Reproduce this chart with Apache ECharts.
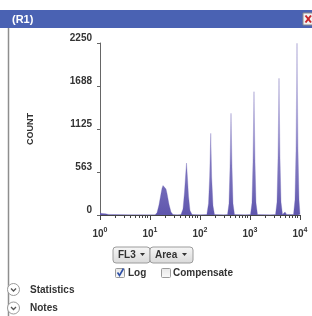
<!DOCTYPE html>
<html>
<head>
<meta charset="utf-8">
<script src="https://cdn.jsdelivr.net/npm/echarts@6/dist/echarts.min.js"></script>
<style>
html, body { margin: 0; padding: 0; background: #fff; }
#main { width: 312px; height: 316px; }
</style>
</head>
<body>
<div id="main"></div>
<script>
// FL3 histogram (channel on log scale, count)
var channel = [1, 1.1, 1.2, 1.3, 1.5, 2, 4, 8,
    12.6, 13.8, 15.1, 16.6, 17.4, 18.2, 19.1, 19.9, 20.9, 21.9, 24.0, 26.3, 28.8, 35,
    41.7, 45.7, 49, 51.3, 53.7, 56.2, 58.9, 63.1, 69.2, 100,
    137, 148, 156, 164, 171, 182, 195, 300,
    355, 380, 398, 417, 437, 457, 490, 800,
    1023, 1096, 1148, 1202, 1259, 1318, 1413, 2500,
    3236, 3467, 3631, 3802, 3981, 4169, 4467, 4700, 5012, 5400,
    7413, 7943, 8318, 8710, 9120, 9550, 10000];
var count = [25, 20, 18, 15, 8, 5, 4, 3,
    3, 30, 130, 280, 350, 385, 392, 380, 340, 280, 140, 40, 5, 3,
    5, 80, 300, 500, 680, 480, 250, 60, 5, 3,
    5, 150, 500, 1068, 500, 120, 5, 3,
    5, 150, 620, 1330, 620, 150, 5, 3,
    5, 160, 700, 1613, 700, 160, 5, 3,
    5, 170, 750, 1788, 750, 170, 5, 10, 40, 8,
    5, 200, 850, 2246, 850, 200, 5];
var yTicks = [0, 563, 1125, 1688, 2250];
var minorTicks = [2, 3, 4, 5, 6, 7, 8, 9, 20, 30, 40, 50, 60, 70, 80, 90,
    200, 300, 400, 500, 600, 700, 800, 900, 2000, 3000, 4000, 5000, 6000, 7000, 8000, 9000];

var font = 'Liberation Sans';
var seriesData = channel.map(function (c, i) { return [c, count[i]]; });

var chart = echarts.init(document.getElementById('main'), null, { renderer: 'canvas' });

function button(x, w) {
    return {
        type: 'rect', shape: { x: x, y: 247, width: w, height: 16, r: 3 },
        style: {
            fill: new echarts.graphic.LinearGradient(0, 0, 0, 1, [
                { offset: 0, color: '#f7f7f7' }, { offset: 1, color: '#d9d9d9' }]),
            stroke: '#9c9c9c', lineWidth: 1
        }
    };
}
function arrow(x) {
    return { type: 'polygon', shape: { points: [[x, 253], [x + 5, 253], [x + 2.5, 256]] }, style: { fill: '#333' } };
}
function label(x, y, text, extra) {
    var st = { text: text, x: x, y: y, fill: '#333', font: 'bold 10px "' + font + '"', verticalAlign: 'middle' };
    for (var k in extra) st[k] = extra[k];
    return { type: 'text', style: st };
}
function checkbox(x, y) {
    return {
        type: 'rect', shape: { x: x, y: y, width: 9, height: 9, r: 1 },
        style: {
            fill: new echarts.graphic.LinearGradient(0, 0, 0, 1, [
                { offset: 0, color: '#e6e6e6' }, { offset: 1, color: '#fafafa' }]),
            stroke: '#9a9a9a', lineWidth: 1
        }
    };
}
function toggle(cy) {
    return [
        { type: 'circle', shape: { cx: 13.5, cy: cy, r: 6 }, style: { fill: '#fff', stroke: '#9a9a9a', lineWidth: 1 } },
        { type: 'polyline', shape: { points: [[11, cy - 1], [13.5, cy + 1.5], [16, cy - 1]] }, style: { stroke: '#555', lineWidth: 1.3, fill: null } }
    ];
}

var graphics = [
    { type: 'rect', shape: { x: 0, y: 10, width: 312, height: 18 }, style: { fill: '#4a62b3' } },
    label(12, 19.5, '(R1)', { fill: '#fff', font: 'bold 11px "' + font + '"' }),
    { type: 'rect', shape: { x: 303, y: 13, width: 12, height: 12 }, style: { fill: '#f2f2f2', stroke: '#888' } },
    { type: 'line', shape: { x1: 305.5, y1: 15.5, x2: 311, y2: 22.5 }, style: { stroke: '#c8262a', lineWidth: 2 } },
    { type: 'line', shape: { x1: 311, y1: 15.5, x2: 305.5, y2: 22.5 }, style: { stroke: '#c8262a', lineWidth: 2 } },
    { type: 'line', shape: { x1: 8.5, y1: 28, x2: 8.5, y2: 316 }, style: { stroke: '#8e8e8e', lineWidth: 1.5 } },
    button(113, 37), button(150, 43),
    label(118, 255, 'FL3'), arrow(140),
    label(155, 255, 'Area'), arrow(182),
    checkbox(115.5, 268.5),
    { type: 'polyline', shape: { points: [[117.5, 272.5], [119.5, 275.5], [123.5, 268.5]] }, style: { stroke: '#2d4fa6', lineWidth: 1.6, fill: null } },
    label(128, 273.5, 'Log'),
    checkbox(161.5, 268.5),
    label(173, 273.5, 'Compensate'),
    label(30, 290, 'Statistics'),
    label(30, 308.5, 'Notes')
].concat(toggle(289.5), toggle(308));

var option = {
    animation: false,
    backgroundColor: '#fff',
    textStyle: { fontFamily: font },
    grid: { left: 100, right: 12, top: 43, bottom: 101 },
    xAxis: [{
        type: 'log', logBase: 10, min: 1, max: 10000,
        axisLine: { lineStyle: { color: '#444', width: 1 } },
        axisTick: { length: 5, lineStyle: { color: '#444' } },
        splitLine: { show: false },
        axisLabel: {
            margin: 12,
            formatter: function (v) {
                return '{b|10}{s|' + Math.round(Math.log10(v)) + '}';
            },
            rich: {
                b: { fontSize: 10, fontWeight: 'bold', color: '#333', fontFamily: font },
                s: { fontSize: 7, fontWeight: 'bold', color: '#333', fontFamily: font, padding: [0, 0, 7, 0] }
            }
        }
    }, {
        type: 'log', logBase: 10, min: 1, max: 10000, position: 'bottom',
        axisLine: { show: false },
        axisTick: { length: 3, customValues: minorTicks, lineStyle: { color: '#444' } },
        axisLabel: { show: false },
        splitLine: { show: false }
    }],
    yAxis: {
        type: 'value', min: 0, max: 2250, interval: 562.5,
        name: 'COUNT', nameLocation: 'middle', nameGap: 65, nameRotate: 90,
        nameTextStyle: { fontSize: 9, fontWeight: 'bold', color: '#333', fontFamily: font },
        axisLine: { show: true, lineStyle: { color: '#666' } },
        axisTick: { show: true, length: 3, lineStyle: { color: '#666' } },
        splitLine: { show: false },
        axisLabel: {
            margin: 8, fontSize: 10, fontWeight: 'bold', color: '#333', verticalAlign: 'bottom',
            formatter: function (v) { return String(Math.round(v)); }
        }
    },
    series: [{
        type: 'line',
        data: seriesData,
        showSymbol: false,
        lineStyle: { width: 0.6, color: '#6a62b4', opacity: 0.5 },
        areaStyle: {
            opacity: 1,
            color: new echarts.graphic.LinearGradient(0, 0, 0, 1, [
                { offset: 0, color: '#f2f0fa' },
                { offset: 0.45, color: '#a19ad3' },
                { offset: 1, color: '#5f56ad' }])
        }
    }],
    graphic: graphics
};
chart.setOption(option);
</script>
</body>
</html>
